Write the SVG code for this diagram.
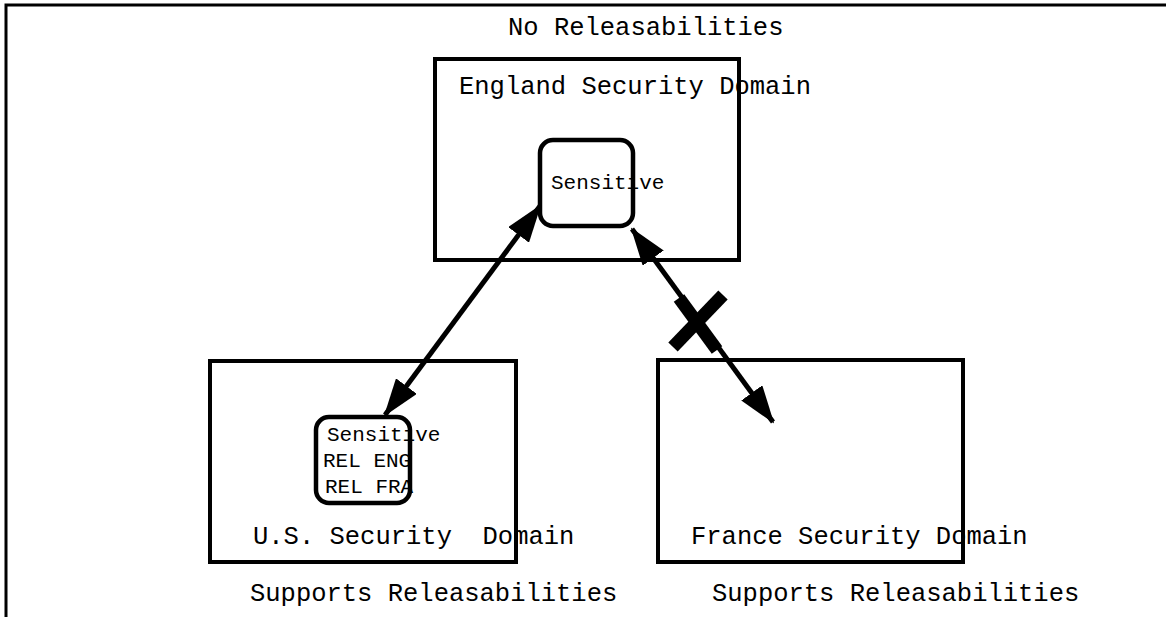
<svg xmlns="http://www.w3.org/2000/svg" width="1166" height="617" viewBox="0 0 1166 617">
  <style>
    .frame { fill: none; stroke: #000; stroke-width: 3; }
    .domain { fill: none; stroke: #000; stroke-width: 4; }
    .label { fill: none; stroke: #000; stroke-width: 4.5; }
    .big { font-family: "Liberation Mono", "Courier New", monospace; font-size: 25.5px; fill: #000; }
    .small { font-family: "Liberation Mono", "Courier New", monospace; font-size: 21px; fill: #000; }
    .link { fill: none; stroke: #000; stroke-width: 5; }
    .cross { fill: none; stroke: #000; stroke-width: 13; stroke-linecap: butt; }
  </style>
  <defs>
    <marker id="head" viewBox="0 0 38 26" refX="36" refY="13" markerWidth="38" markerHeight="26" markerUnits="userSpaceOnUse" orient="auto-start-reverse">
      <path d="M0,0 L38,13 L0,26 Z" fill="#000"/>
    </marker>
  </defs>

  <rect width="1166" height="617" fill="#fff"/>

  <!-- page frame: top and left edges -->
  <path class="frame" d="M6,617 V5 H1166"/>

  <text class="big" x="508" y="35">No Releasabilities</text>

  <g id="england">
    <rect class="domain" x="435" y="59" width="304" height="201"/>
    <text class="big" x="459" y="94">England Security Domain</text>
  </g>

  <g id="england-sensitive">
    <rect class="label" x="540" y="140" width="93" height="86" rx="13"/>
    <text class="small" x="551" y="189">Sensitive</text>
  </g>

  <g id="us">
    <rect class="domain" x="210" y="361" width="306" height="201"/>
    <text class="big" x="253" y="544" xml:space="preserve">U.S. Security  Domain</text>
  </g>

  <g id="us-sensitive">
    <rect class="label" x="316" y="417" width="94" height="86" rx="13"/>
    <text class="small" x="327" y="441">Sensitive</text>
    <text class="small" x="323" y="467">REL ENG</text>
    <text class="small" x="325" y="493">REL FRA</text>
  </g>

  <g id="france">
    <rect class="domain" x="658" y="360" width="305" height="202"/>
    <text class="big" x="691" y="544">France Security Domain</text>
  </g>

  <text class="big" x="250" y="601">Supports Releasabilities</text>
  <text class="big" x="712" y="601">Supports Releasabilities</text>

  <g id="connectors">
    <line class="link" x1="540" y1="206" x2="385" y2="415" marker-start="url(#head)" marker-end="url(#head)"/>
    <line class="link" x1="632" y1="229" x2="773" y2="422" marker-start="url(#head)" marker-end="url(#head)"/>
    <!-- blocked mark on the England-France link -->
    <line class="cross" x1="673" y1="347" x2="723" y2="295"/>
    <line class="cross" x1="679" y1="298" x2="717" y2="350"/>
  </g>
</svg>
